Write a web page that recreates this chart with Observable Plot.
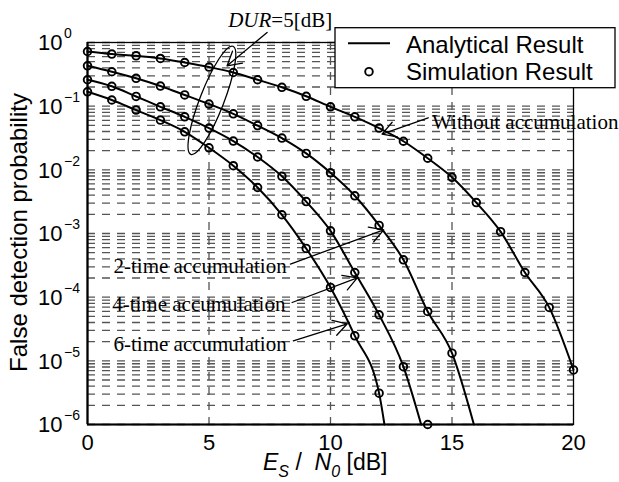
<!DOCTYPE html>
<html>
<head>
<meta charset="utf-8">
<script src="https://cdn.jsdelivr.net/npm/d3@7"></script>
<script src="https://cdn.jsdelivr.net/npm/@observablehq/plot@0.6"></script>
<style>
  html, body { margin: 0; padding: 0; background: #fff; }
  #chart svg { display: block; }
</style>
</head>
<body>
<div id="chart"></div>
<script>
// ---------- data ----------
const snr = [0,1,2,3,4,5,6,7,8,9,10,11,12,13,14,15,16,17,18,19,20];

const seriesNames = ["Without accumulation", "2-time accumulation", "4-time accumulation", "6-time accumulation"];

// Simulation results (circles), indexed by snr
const simWithout = [0.722,0.657,0.618,0.561,0.485,0.411,0.338,0.26,0.198,0.143,0.0977,0.068,0.0452,0.0281,0.0152,0.00763,0.00306,0.00107,2.44e-4,6.9e-5,7.2e-6];
const sim2 = [0.43,0.347,0.274,0.207,0.15,0.108,0.0759,0.0495,0.0315,0.0181,0.00898,0.00391,0.00134,3.86e-4,5.96e-5,1.32e-5];
const sim4 = [0.26,0.205,0.142,0.0977,0.068,0.0452,0.0283,0.0159,0.00792,0.00317,0.0011,2.44e-4,5.28e-5,8.1e-6,1e-6];
const sim6 = [0.168,0.125,0.0867,0.0604,0.0396,0.0222,0.0116,0.00528,0.00197,5.82e-4,1.42e-4,2.47e-5,3.11e-6];

// Analytical result: follows the simulated values and ends where it leaves the axes
const analyticEndX = [20, 15.9, 13.73, 12.22];
const analyticEndY = [7.2e-6, 1e-6, 1e-6, 1e-6];

// axes
const xTicks = [0, 5, 10, 15, 20];
const yExponents = [0, -1, -2, -3, -4, -5, -6];
const minorMultipliers = [2, 3, 4, 5, 6, 7, 8, 9];
const xGrid = [5, 10, 15];

// annotations (data coordinates)
const labelText = ["Without accumulation", "2-time accumulation", "4-time accumulation", "6-time accumulation"];
const labelX = [14.18, 1.07, 1.016, 1.07];
const labelY = [0.0436, 2.44e-4, 6.11e-5, 1.44e-5];
const arrowX1 = [14.02, 8.35, 8.42, 8.47, 7.39];
const arrowY1 = [0.0657, 3.31e-4, 8.25e-5, 2.065e-5, 1.436];
const arrowX2 = [12.12, 12.19, 11.10, 10.69, 5.745];
const arrowY2 = [0.0364, 1.143e-3, 2.015e-4, 3.82e-5, 0.43];
const durLabel = {x: 5.81, y: 1.72};
const ellipseCenter = {x: 5.14, y: 0.1214};

// ---------- build tables ----------
const simSeries = [simWithout, sim2, sim4, sim6];
const dotRows = [];
const lineRows = [];
simSeries.forEach((vals, i) => {
  vals.forEach((v, j) => {
    dotRows.push({s: seriesNames[i], x: snr[j], y: v});
    if (snr[j] < analyticEndX[i]) lineRows.push({s: seriesNames[i], x: snr[j], y: v});
  });
  lineRows.push({s: seriesNames[i], x: analyticEndX[i], y: analyticEndY[i]});
});

const gridY = [];
yExponents.forEach(e => {
  gridY.push(10 ** e);
  if (e > -6) minorMultipliers.forEach(m => gridY.push(m * 10 ** (e - 1)));
});

const labels = labelText.map((t, i) => ({t, x: labelX[i], y: labelY[i]}));
const arrows = arrowX1.map((x1, i) => ({x1, y1: arrowY1[i], x2: arrowX2[i], y2: arrowY2[i]}));

const gridStyle = {stroke: "#555", strokeWidth: 1.3, strokeDasharray: "8,7"};

const chart = Plot.plot({
  width: 619,
  height: 482,
  marginLeft: 87,
  marginRight: 46,
  marginTop: 42,
  marginBottom: 58,
  style: {fontFamily: "Liberation Sans, Arial, sans-serif", fontSize: "22px", background: "#fff", color: "#000", overflow: "visible"},
  x: {domain: [0, 20], axis: null},
  y: {type: "log", domain: [1e-6, 1], axis: null},
  marks: [
    Plot.ruleY(gridY, gridStyle),
    Plot.ruleX(xGrid, gridStyle),
    Plot.line(lineRows, {x: "x", y: "y", z: "s", curve: "monotone-x", stroke: "#000", strokeWidth: 2}),
    Plot.dot(dotRows, {x: "x", y: "y", r: 3.8, stroke: "#000", strokeWidth: 1.9, fill: "none"}),
    Plot.frame({stroke: "#000", strokeWidth: 1.3}),
    Plot.ruleX([0], {stroke: "#000", strokeWidth: 2.2}),
    Plot.ruleY([1e-6], {stroke: "#000", strokeWidth: 2.2}),
    Plot.text(xTicks, {x: d => d, frameAnchor: "bottom", dy: 25, lineAnchor: "bottom", text: d => String(d), fontSize: 22}),
    Plot.arrow(arrows, {x1: "x1", y1: "y1", x2: "x2", y2: "y2", stroke: "#000", strokeWidth: 1.3, headLength: 18, headAngle: 60}),
    Plot.text(labels, {x: "x", y: "y", text: "t", textAnchor: "start", lineAnchor: "bottom", fontFamily: "Liberation Serif, Times New Roman, serif", fontSize: 21, fill: "#000"})
  ]
});

document.getElementById("chart").appendChild(chart);

// ---------- decorations that need rich text ----------
const svg = d3.select(chart);
const sx = chart.scale("x"), sy = chart.scale("y");
const NS = "Liberation Sans, Arial, sans-serif";
const SERIF = "Liberation Serif, Times New Roman, serif";

// y tick labels 10^e
yExponents.forEach(e => {
  const t = svg.append("text")
    .attr("x", 38).attr("y", sy.apply(10 ** e) + 8.3)
    .attr("text-anchor", "start")
    .attr("font-family", NS).attr("font-size", 22).attr("fill", "#000");
  t.append("tspan").text("10");
  t.append("tspan").attr("dx", 1.5).attr("dy", -12).attr("font-size", 14)
    .text(e === 0 ? "0" : "\u2212" + (-e));
});

// y title
svg.append("text")
  .attr("transform", "translate(27,232.5) rotate(-90)")
  .attr("text-anchor", "middle")
  .attr("font-family", NS).attr("font-size", 24).attr("fill", "#000")
  .text("False detection probability");

// x title: E_S / N_0 [dB]
{
  const t = svg.append("text").attr("x", 263).attr("y", 470)
    .attr("text-anchor", "start")
    .attr("font-family", NS).attr("font-size", 23).attr("fill", "#000");
  t.append("tspan").attr("font-style", "italic").text("E");
  t.append("tspan").attr("font-style", "italic").attr("font-size", 16).attr("dy", 7).text("S");
  t.append("tspan").attr("dy", -7).text("\u00a0/\u00a0\u00a0");
  t.append("tspan").attr("font-style", "italic").text("N");
  t.append("tspan").attr("font-style", "italic").attr("font-size", 16).attr("dy", 7).text("0");
  t.append("tspan").attr("dy", -7).text("\u00a0[dB]");
}

// DUR ellipse
svg.append("ellipse")
  .attr("cx", 0).attr("cy", 0).attr("rx", 58).attr("ry", 12)
  .attr("transform", `translate(${sx.apply(ellipseCenter.x)},${sy.apply(ellipseCenter.y)}) rotate(-68.7)`)
  .attr("fill", "none").attr("stroke", "#000").attr("stroke-width", 1.3);

// DUR=5[dB]
{
  const t = svg.append("text").attr("x", sx.apply(durLabel.x)).attr("y", sy.apply(durLabel.y))
    .attr("text-anchor", "start")
    .attr("font-family", SERIF).attr("font-size", 21).attr("fill", "#000");
  t.append("tspan").attr("font-style", "italic").text("DUR");
  t.append("tspan").text("=5[dB]");
}

// legend
{
  const g = svg.append("g");
  g.append("rect").attr("x", 335).attr("y", 27.7).attr("width", 280).attr("height", 60)
    .attr("fill", "#fff").attr("stroke", "#000").attr("stroke-width", 1.3);
  g.append("line").attr("x1", 348).attr("x2", 390).attr("y1", 43.3).attr("y2", 43.3)
    .attr("stroke", "#000").attr("stroke-width", 2);
  g.append("circle").attr("cx", 369).attr("cy", 71.7).attr("r", 3.8)
    .attr("fill", "none").attr("stroke", "#000").attr("stroke-width", 1.9);
  g.append("text").attr("x", 406).attr("y", 53).attr("text-anchor", "start")
    .attr("font-family", NS).attr("font-size", 24)
    .attr("fill", "#000").text("Analytical Result");
  g.append("text").attr("x", 406).attr("y", 80).attr("text-anchor", "start")
    .attr("font-family", NS).attr("font-size", 24)
    .attr("fill", "#000").text("Simulation Result");
}
</script>
</body>
</html>
